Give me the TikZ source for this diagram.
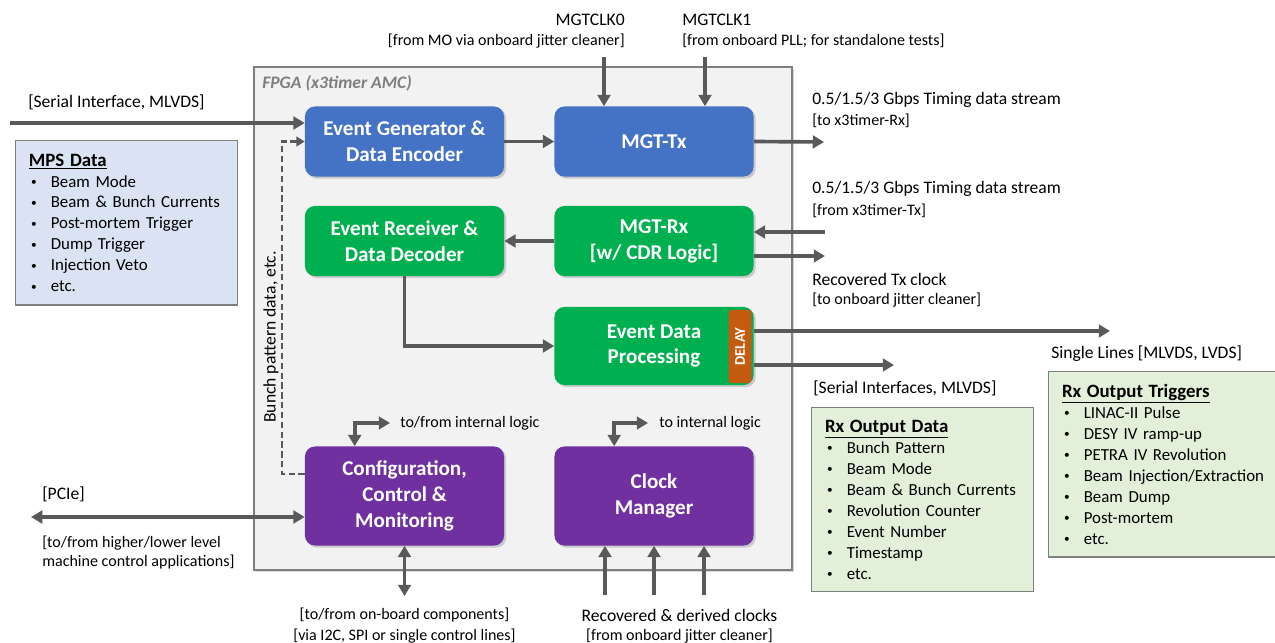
\documentclass[tikz,border=0pt]{standalone}
\usepackage{fontspec}
\setmainfont{Carlito}
\usetikzlibrary{arrows.meta,shadows,calc}

\definecolor{evblue}{HTML}{4472C4}
\definecolor{evgreen}{HTML}{00B050}
\definecolor{evpurple}{HTML}{7030A0}
\definecolor{evorange}{HTML}{C55A11}
\definecolor{linkgray}{HTML}{595959}
\definecolor{framegray}{HTML}{7F7F7F}
\definecolor{fpgafill}{HTML}{F2F2F2}
\definecolor{mpsfill}{HTML}{DAE3F3}
\definecolor{rxfill}{HTML}{E2F0D9}

\newcommand{\boxttl}[1]{{\bfseries\fontsize{13.4}{15}\selectfont\underline{#1}}}
\newcommand{\li}[1]{\\\hspace*{1.5pt}\makebox[14pt][l]{\raisebox{0.2ex}{\fontsize{8}{8}\selectfont\textbullet}}#1}

\begin{document}
\begin{tikzpicture}[x=0.025cm,y=-0.025cm,
  blk/.style={rounded corners=7pt, text=white, align=center,
    font=\bfseries\fontsize{15}{18.4}\selectfont,
    minimum width=4.975cm, minimum height=1.75cm, inner sep=2pt,
    drop shadow={opacity=0.35, shadow xshift=1.5pt, shadow yshift=-1.5pt}},
  delaybox/.style={rotate=90, fill=evorange, rounded corners=2pt, text=white,
    font=\bfseries\fontsize{10.5}{12}\selectfont,
    minimum width=1.825cm, minimum height=0.575cm, inner sep=0pt},
  listbox/.style={anchor=north west, draw=framegray, line width=0.9pt, align=left,
    font=\fontsize{12}{14.9}\selectfont, inner xsep=9.5pt, inner ysep=4pt},
  lbl/.style={font=\fontsize{12.5}{15}\selectfont, inner sep=0pt},
  sublbl/.style={font=\fontsize{11.4}{13.5}\selectfont, inner sep=0pt},
  link/.style={draw=linkgray, line width=2.6pt, -{Triangle[length=8pt,width=9pt]}},
  both/.style={link, {Triangle[length=8pt,width=9pt]}-{Triangle[length=8pt,width=9pt]}},
  dlink/.style={draw=linkgray, line width=1.6pt, dash pattern=on 4.5pt off 2.5pt,
    -{Triangle[length=6pt,width=7pt]}},
]
\useasboundingbox (0,0) rectangle (1275,643);

% FPGA frame
\node[draw=framegray, line width=1.4pt, fill=fpgafill,
  minimum width=13.45cm, minimum height=12.575cm,
  drop shadow={opacity=0.3, shadow xshift=1.5pt, shadow yshift=-1.5pt}] (fpga) at (523,318.5) {};
\node[font=\bfseries\itshape\fontsize{12.5}{15}\selectfont, text=framegray,
  anchor=west, inner sep=0pt] (fpgattl) at (262,83) {FPGA (x3timer AMC)};

% blocks
\node[blk, fill=evblue] (evgen) at (404.5,141.5) {Event Generator \&\\Data Encoder};
\node[blk, fill=evblue] (mgttx) at (654,141.5) {MGT-Tx};
\node[blk, fill=evgreen] (evrx) at (404.5,241) {Event Receiver \&\\Data Decoder};
\node[blk, fill=evgreen] (mgtrx) at (654,241) {MGT-Rx\\{[w/ CDR Logic]}};
\node[blk, fill=evgreen, minimum height=1.95cm] (edp) at (654,346) {Event Data\\Processing};
\node[delaybox] (dly) at (740,346.5) {DELAY};
\node[blk, fill=evpurple, minimum height=2.475cm] (cfg) at (404.5,496) {Configuration,\\Control \&\\Monitoring};
\node[blk, fill=evpurple, minimum height=2.475cm] (clkm) at (654,496) {Clock\\Manager};

% data lists
\node[listbox, fill=mpsfill, text width=139pt, minimum height=116.9pt] (mps) at (15,140)
  {\boxttl{MPS Data}\li{Beam Mode}\li{Beam \& Bunch Currents}\li{Post-mortem Trigger}%
   \li{Dump Trigger}\li{Injection Veto}\li{etc.}};
\node[listbox, fill=rxfill, text width=139pt, minimum height=131pt] (rxdata) at (811,407)
  {\boxttl{Rx Output Data}\li{Bunch Pattern}\li{Beam Mode}\li{Beam \& Bunch Currents}%
   \li{Revolution Counter}\li{Event Number}\li{Timestamp}\li{etc.}};
\node[listbox, fill=rxfill, text width=158pt, minimum height=131.8pt] (rxtrig) at (1048,371)
  {\boxttl{Rx Output Triggers}\li{LINAC-II Pulse}\li{DESY IV ramp-up}\li{PETRA IV Revolution}%
   \li{Beam Injection/Extraction}\li{Beam Dump}\li{Post-mortem}\li{etc.}};

% labels
\node[lbl, anchor=west] (serlbl) at (28,102) {[Serial Interface, MLVDS]};
\node[lbl, anchor=east] (clk0lbl) at (625,20) {MGTCLK0};
\node[sublbl, anchor=east] (clk0sub) at (625,41) {[from MO via onboard jitter cleaner]};
\node[lbl, anchor=west] (clk1lbl) at (682,20) {MGTCLK1};
\node[sublbl, anchor=west] (clk1sub) at (682,41) {[from onboard PLL; for standalone tests]};
\node[lbl, anchor=west] (txlbl) at (812,100) {0.5/1.5/3 Gbps Timing data stream};
\node[sublbl, anchor=west] (txsub) at (812,121) {[to x3timer-Rx]};
\node[lbl, anchor=west] (rxlbl) at (812,189) {0.5/1.5/3 Gbps Timing data stream};
\node[sublbl, anchor=west] (rxsub) at (812,211) {[from x3timer-Tx]};
\node[lbl, anchor=west] (rclbl) at (812,279) {Recovered Tx clock};
\node[sublbl, anchor=west] (rcsub) at (812,300) {[to onboard jitter cleaner]};
\node[lbl, anchor=west] (singlbl) at (1051,354) {Single Lines [MLVDS, LVDS]};
\node[lbl, anchor=west] (serolbl) at (813,388) {[Serial Interfaces, MLVDS]};
\node[lbl, anchor=west] (pcielbl) at (42,494) {[PCIe]};
\node[sublbl, anchor=west] (pciesub) at (42,543) {[to/from higher/lower level};
\node[sublbl, anchor=west] (pciesub2) at (42,562) {machine control applications]};
\node[sublbl] (obclbl) at (404.5,615) {[to/from on-board components]};
\node[sublbl] (obcsub) at (404.5,636) {[via I2C, SPI or single control lines]};
\node[lbl] (rdclbl) at (679.5,615) {Recovered \& derived clocks};
\node[sublbl] (rdcsub) at (679.5,636) {[from onboard jitter cleaner]};
\node[sublbl, anchor=west] (cfgloglbl) at (400,423) {to/from internal logic};
\node[sublbl, anchor=west] (clkloglbl) at (659,423) {to internal logic};
\node[lbl, rotate=90] (bunchlbl) at (271,337) {Bunch pattern data, etc.};

% free ends
\coordinate (serin) at (10,123);
\coordinate (clk0) at (604,57);
\coordinate (clk1) at (705,57);
\coordinate (txout) at (824,142);
\coordinate (rxin) at (825,232);
\coordinate (rxclk) at (825,256);
\coordinate (single) at (1110,331);
\coordinate (serout) at (894,365);
\coordinate (pcie) at (31,517);
\coordinate (onboard) at (404.5,596);
\coordinate (cfglog) at (390,423);
\coordinate (clklog) at (648,423);

% connectors
\draw[link] (serin) -- (serin -| evgen.west);
\draw[link] (evgen) -- (mgttx);
\draw[link] (clk0) -- (clk0 |- mgttx.north);
\draw[link] (clk1) -- (clk1 |- mgttx.north);
\draw[link] (mgttx.east) -- (txout);
\draw[link] (rxin) -- (rxin -| mgtrx.east);
\draw[link] (rxclk -| mgtrx.east) -- (rxclk);
\draw[link] (mgtrx) -- (evrx);
\draw[link] (evrx.south) |- (edp.west);
\draw[link] (single -| edp.east) -- (single);
\draw[link] (serout -| edp.east) -- (serout);
\draw[dlink] ($(cfg.west)+(0,-22)$) -- ++(-23,0) |- (evgen.west);
\draw[both] ($(cfg.north west)+(50,0)$) |- (cfglog);
\draw[both] ($(clkm.north west)+(60,0)$) |- (clklog);
\draw[both] (pcie) -- (pcie -| cfg.west);
\draw[both] (cfg.south) -- (onboard);
\foreach \x in {605,654,704} {
  \coordinate (rclk) at (\x,595);
  \draw[link] (rclk) -- (rclk |- clkm.south);
}
\end{tikzpicture}
\end{document}
